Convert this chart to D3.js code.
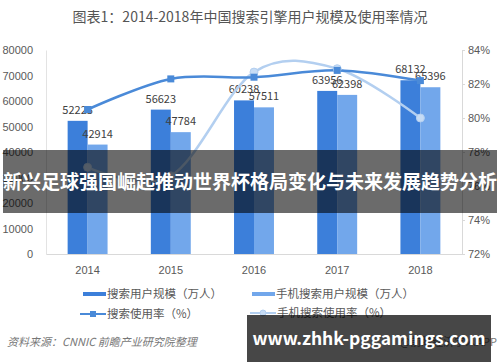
<!DOCTYPE html>
<html>
<head>
<meta charset="utf-8">
<script src="https://cdn.jsdelivr.net/npm/d3@7/dist/d3.min.js"></script>
<style>
  html, body { margin: 0; padding: 0; background: #fff; }
  svg { display: block; font-family: "Noto Sans CJK SC", "Noto Sans", sans-serif; }
</style>
</head>
<body>
<div id="chart"></div>
<script>
'use strict';

var years = ["2014", "2015", "2016", "2017", "2018"];
var searchUsers = [52223, 56623, 60238, 63956, 68132];
var mobileUsers = [42914, 47784, 57511, 62398, 65396];
var searchRate = [80.5, 82.3, 82.4, 82.8, 82.2];
var mobileRate = [77.1, 76.6, 82.7, 82.9, 80.0];
var leftTicks = [0, 10000, 20000, 30000, 40000, 50000, 60000, 70000, 80000];
var rightTicks = [72, 74, 76, 78, 80, 82, 84];
var seriesNames = ["搜索用户规模（万人）", "手机搜索用户规模（万人）", "搜索使用率（%）", "手机搜索使用率（%）"];

var W = 500, H = 362;
var darkBar = "#3c7fda", lightBar = "#72a7eb";
var darkLine = "#4a8ad8", lightLine = "#b3cff0";
var grey = "#595959";

var svg = d3.select("#chart").append("svg")
  .attr("width", W)
  .attr("height", H);

svg.append("rect").attr("width", W).attr("height", H).attr("fill", "#fff");

// title
svg.append("text")
  .attr("x", 250).attr("y", 22)
  .attr("text-anchor", "middle")
  .attr("font-size", 14)
  .attr("fill", "#555")
  .text("图表1：2014-2018年中国搜索引擎用户规模及使用率情况");

var x = d3.scaleBand().domain(years).range([46, 462]).paddingInner(0.52).paddingOuter(0.26);
var x1 = d3.scaleBand().domain([0, 1]).range([0, x.bandwidth()]);
var yL = d3.scaleLinear().domain([0, 80000]).range([254, 50]);
var yR = d3.scaleLinear().domain([72, 84]).range([254, 50]);

// left axis
var gl = svg.append("g").attr("transform", "translate(46,0)")
  .call(d3.axisLeft(yL).tickValues(leftTicks).tickSize(0).tickPadding(13).tickFormat(d3.format("d")));
gl.select(".domain").attr("stroke", "#e3e3e3");
gl.selectAll("text").attr("font-size", 11).attr("fill", grey);

// right axis
var gr = svg.append("g").attr("transform", "translate(462,0)")
  .call(d3.axisRight(yR).tickValues(rightTicks).tickSize(3).tickPadding(3).tickFormat(function (d) { return d + "%"; }));
gr.select(".domain").attr("stroke", "#d9d9d9");
gr.selectAll("line").attr("stroke", "#d9d9d9");
gr.selectAll("text").attr("font-size", 11).attr("fill", grey);

// bottom axis
var gb = svg.append("g").attr("transform", "translate(0,254)")
  .call(d3.axisBottom(x).tickSize(0).tickPadding(12));
gb.select(".domain").attr("stroke", "#d9d9d9");
gb.selectAll("text").attr("font-size", 11).attr("fill", grey);

// bars
var barSets = [searchUsers, mobileUsers];
var barColors = [darkBar, lightBar];
barSets.forEach(function (vals, s) {
  var g = svg.append("g");
  g.selectAll("rect").data(vals).enter().append("rect")
    .attr("x", function (d, i) { return x(years[i]) + x1(s); })
    .attr("y", function (d) { return yL(d); })
    .attr("width", x1.bandwidth())
    .attr("height", function (d) { return yL(0) - yL(d); })
    .attr("fill", barColors[s]);
  g.selectAll("text").data(vals).enter().append("text")
    .attr("x", function (d, i) { return x(years[i]) + x1(s) + x1.bandwidth() / 2; })
    .attr("y", function (d) { return yL(d) - 7; })
    .attr("text-anchor", "middle")
    .attr("font-size", 11)
    .attr("fill", "#404040")
    .text(function (d) { return d; });
});

// rate lines
var line = d3.line()
  .x(function (d, i) { return x(years[i]) + x.bandwidth() / 2; })
  .y(function (d) { return yR(d); })
  .curve(d3.curveCardinal.tension(0));

svg.append("path").datum(mobileRate)
  .attr("d", line).attr("fill", "none")
  .attr("stroke", lightLine).attr("stroke-width", 2.5);
svg.append("path").datum(searchRate)
  .attr("d", line).attr("fill", "none")
  .attr("stroke", darkLine).attr("stroke-width", 2.5);

svg.append("g").selectAll("circle").data(mobileRate).enter().append("circle")
  .attr("cx", function (d, i) { return x(years[i]) + x.bandwidth() / 2; })
  .attr("cy", function (d) { return yR(d); })
  .attr("r", 4)
  .attr("fill", "#c6dcf5").attr("stroke", lightLine);
svg.append("g").selectAll("rect").data(searchRate).enter().append("rect")
  .attr("x", function (d, i) { return x(years[i]) + x.bandwidth() / 2 - 3.5; })
  .attr("y", function (d) { return yR(d) - 3.5; })
  .attr("width", 7).attr("height", 7)
  .attr("fill", darkLine);

// legend
var legendPos = [[83, 294], [252, 294], [80, 314], [250, 313]];
seriesNames.forEach(function (name, i) {
  var p = legendPos[i];
  var g = svg.append("g").attr("transform", "translate(" + p[0] + "," + p[1] + ")");
  if (i < 2) {
    g.append("rect").attr("x", 0).attr("y", -2).attr("width", 23).attr("height", 4).attr("fill", barColors[i]);
    g.append("text").attr("x", 24).attr("y", 4).attr("font-size", 11.5).attr("fill", grey).text(name);
  } else {
    var c = i === 2 ? darkLine : lightLine;
    g.append("line").attr("x1", 0).attr("x2", 26).attr("y1", 0).attr("y2", 0).attr("stroke", c).attr("stroke-width", 2);
    if (i === 2) {
      g.append("rect").attr("x", 10).attr("y", -3).attr("width", 6).attr("height", 6).attr("fill", c);
    } else {
      g.append("circle").attr("cx", 13).attr("cy", 0).attr("r", 3).attr("fill", "#c6dcf5").attr("stroke", c);
    }
    g.append("text").attr("x", 27).attr("y", 4).attr("font-size", 11.5).attr("fill", grey).text(name);
  }
});

// source
svg.append("text")
  .attr("x", 7).attr("y", 346)
  .attr("font-size", 11).attr("font-style", "italic")
  .attr("fill", "#777")
  .text("资料来源：CNNIC 前瞻产业研究院整理");
svg.append("text")
  .attr("x", 497).attr("y", 346)
  .attr("text-anchor", "end")
  .attr("font-size", 11)
  .attr("fill", "#777")
  .text("@前瞻经济学人APP");

// overlay banner
svg.append("rect")
  .attr("x", 3).attr("y", 150).attr("width", 494).attr("height", 63)
  .attr("fill", "#000").attr("fill-opacity", 0.58);
svg.append("text")
  .attr("x", 250).attr("y", 189)
  .attr("text-anchor", "middle")
  .attr("font-size", 19).attr("font-weight", "bold")
  .attr("fill", "#fff")
  .text("新兴足球强国崛起推动世界杯格局变化与未来发展趋势分析");

// bottom site banner
svg.append("rect")
  .attr("x", 247).attr("y", 315).attr("width", 244).attr("height", 47)
  .attr("fill", "#000").attr("fill-opacity", 0.72);
svg.append("text")
  .attr("x", 369).attr("y", 345)
  .attr("text-anchor", "middle")
  .attr("font-size", 17.5).attr("font-weight", "bold")
  .attr("fill", "#fff")
  .text("www.zhhk-pggamings.com");
</script>
</body>
</html>
